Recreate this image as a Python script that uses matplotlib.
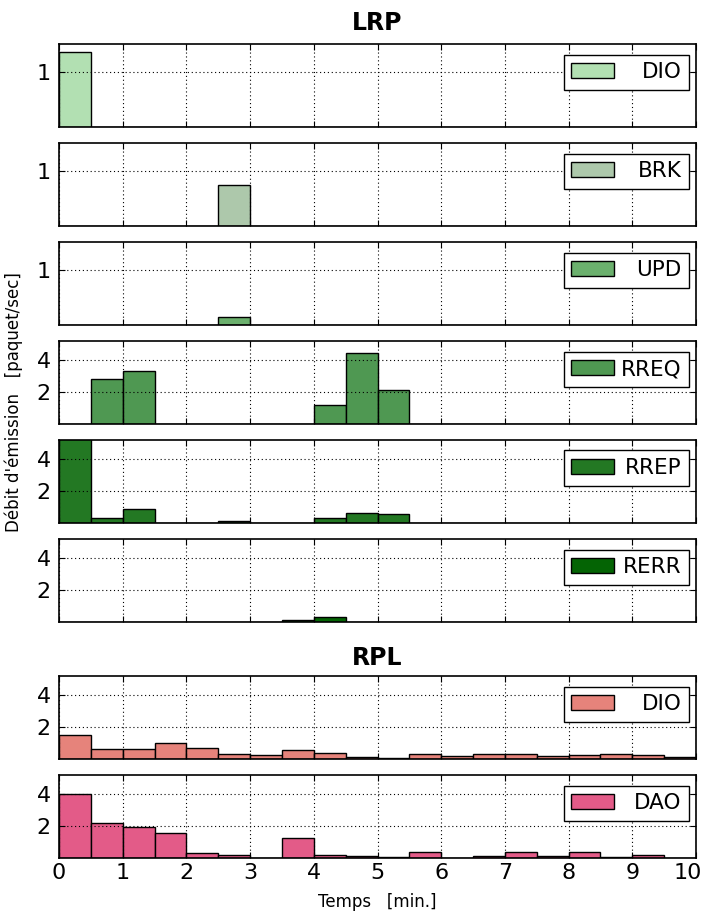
import matplotlib
matplotlib.use("Agg")
import matplotlib.pyplot as plt
from matplotlib.transforms import ScaledTranslation

# bin start times [min], bins are 0.5 min wide
time_min = [0.0, 0.5, 1.0, 1.5, 2.0, 2.5, 3.0, 3.5, 4.0, 4.5,
            5.0, 5.5, 6.0, 6.5, 7.0, 7.5, 8.0, 8.5, 9.0, 9.5]

# LRP rates [paquet/sec]
lrp_dio = [1.36, 0, 0, 0, 0, 0, 0, 0, 0, 0, 0, 0, 0, 0, 0, 0, 0, 0, 0, 0]
lrp_brk = [0, 0, 0, 0, 0, 0.74, 0, 0, 0, 0, 0, 0, 0, 0, 0, 0, 0, 0, 0, 0]
lrp_upd = [0, 0, 0, 0, 0, 0.14, 0, 0, 0, 0, 0, 0, 0, 0, 0, 0, 0, 0, 0, 0]
lrp_rreq = [0, 2.82, 3.27, 0, 0, 0, 0, 0, 1.18, 4.4, 2.1, 0, 0, 0, 0, 0, 0, 0, 0, 0]
lrp_rrep = [5.4, 0.3, 0.85, 0, 0, 0.12, 0, 0, 0.28, 0.65, 0.53, 0, 0, 0, 0, 0, 0, 0, 0, 0]
lrp_rerr = [0, 0, 0, 0, 0, 0, 0, 0.15, 0.34, 0, 0, 0, 0, 0, 0, 0, 0, 0, 0, 0]

# RPL rates [paquet/sec]
rpl_dio = [1.49, 0.63, 0.63, 1.01, 0.67, 0.29, 0.25, 0.57, 0.38, 0.13,
           0.08, 0.29, 0.19, 0.29, 0.29, 0.19, 0.25, 0.29, 0.25, 0.13]
rpl_dao = [4.0, 2.19, 1.9, 1.56, 0.34, 0.19, 0, 1.22, 0.17, 0.13,
           0.06, 0.38, 0, 0.13, 0.38, 0.13, 0.38, 0.08, 0.19, 0]

panels = [
    ("DIO", lrp_dio, "#b2e0b2", 1.5, [1]),
    ("BRK", lrp_brk, "#adc8ab", 1.5, [1]),
    ("UPD", lrp_upd, "#6bb06d", 1.5, [1]),
    ("RREQ", lrp_rreq, "#4f9852", 5.15, [2, 4]),
    ("RREP", lrp_rrep, "#237823", 5.15, [2, 4]),
    ("RERR", lrp_rerr, "#046404", 5.15, [2, 4]),
    ("DIO", rpl_dio, "#e6837b", 5.15, [2, 4]),
    ("DAO", rpl_dao, "#e35b88", 5.15, [2, 4]),
]

W, H = 707, 913
fig = plt.figure(figsize=(W / 100, H / 100), dpi=100)

tops = [44, 143, 242, 341, 440, 539, 676, 775]
left, right, h = 59, 696, 83
axes = []
for (name, vals, col, ymax, yt), top in zip(panels, tops):
    ax = fig.add_axes([left / W, 1 - (top + h) / H, (right - left) / W, h / H])
    ax.bar(time_min, vals, width=0.5, align="edge", color=col,
           edgecolor="black", linewidth=1.0, label=name)
    ax.set_xlim(0, 10)
    ax.set_ylim(0, ymax)
    ax.set_yticks(yt)
    ax.set_xticks(range(11))
    ax.grid(True, color="black", linestyle=(0, (1, 2.5)), linewidth=0.8)
    ax.set_axisbelow(False)
    ax.tick_params(direction="in", length=4, labelsize=16, top=True, right=True)
    ax.tick_params(axis="y", pad=6)
    for s in ax.spines.values():
        s.set_linewidth(1.2)
    if top != tops[-1]:
        ax.tick_params(labelbottom=False)
    axes.append(ax)

axes[0].set_title("LRP", fontsize=17, fontweight="bold", pad=10)
axes[6].set_title("RPL", fontsize=17, fontweight="bold", pad=8)
axes[-1].set_xlabel("Temps   [min.]", fontsize=12, labelpad=7)
fig.text(14 / W, 1 - 402 / H, "Débit d'émission   [paquet/sec]",
         rotation=90, ha="center", va="center", fontsize=12)

# keep the last x label inside the figure
last = axes[-1].get_xticklabels()[-1]
last.set_transform(last.get_transform() + ScaledTranslation(-0.08, 0, fig.dpi_scale_trans))

# legends: same box width, text pushed to the right edge
fs = 15.5
leg_kw = dict(loc="upper right", fontsize=fs, handlelength=2.0, borderpad=0.35,
              borderaxespad=0, fancybox=False, framealpha=1, edgecolor="black",
              bbox_to_anchor=(1 - 7 / (right - left), 1 - 10.5 / h))
fig.canvas.draw()
r = fig.canvas.get_renderer()
widths = []
for ax in axes:
    lg = ax.legend(handletextpad=0.3, **leg_kw)
    widths.append(lg.get_texts()[0].get_window_extent(r).width)
em = fs * 100 / 72
wmax = max(widths)
for ax, w in zip(axes, widths):
    lg = ax.legend(handletextpad=0.3 + (wmax - w) / em, **leg_kw)
    lg.get_frame().set_linewidth(1.0)

fig.savefig("out.png", dpi=100)
